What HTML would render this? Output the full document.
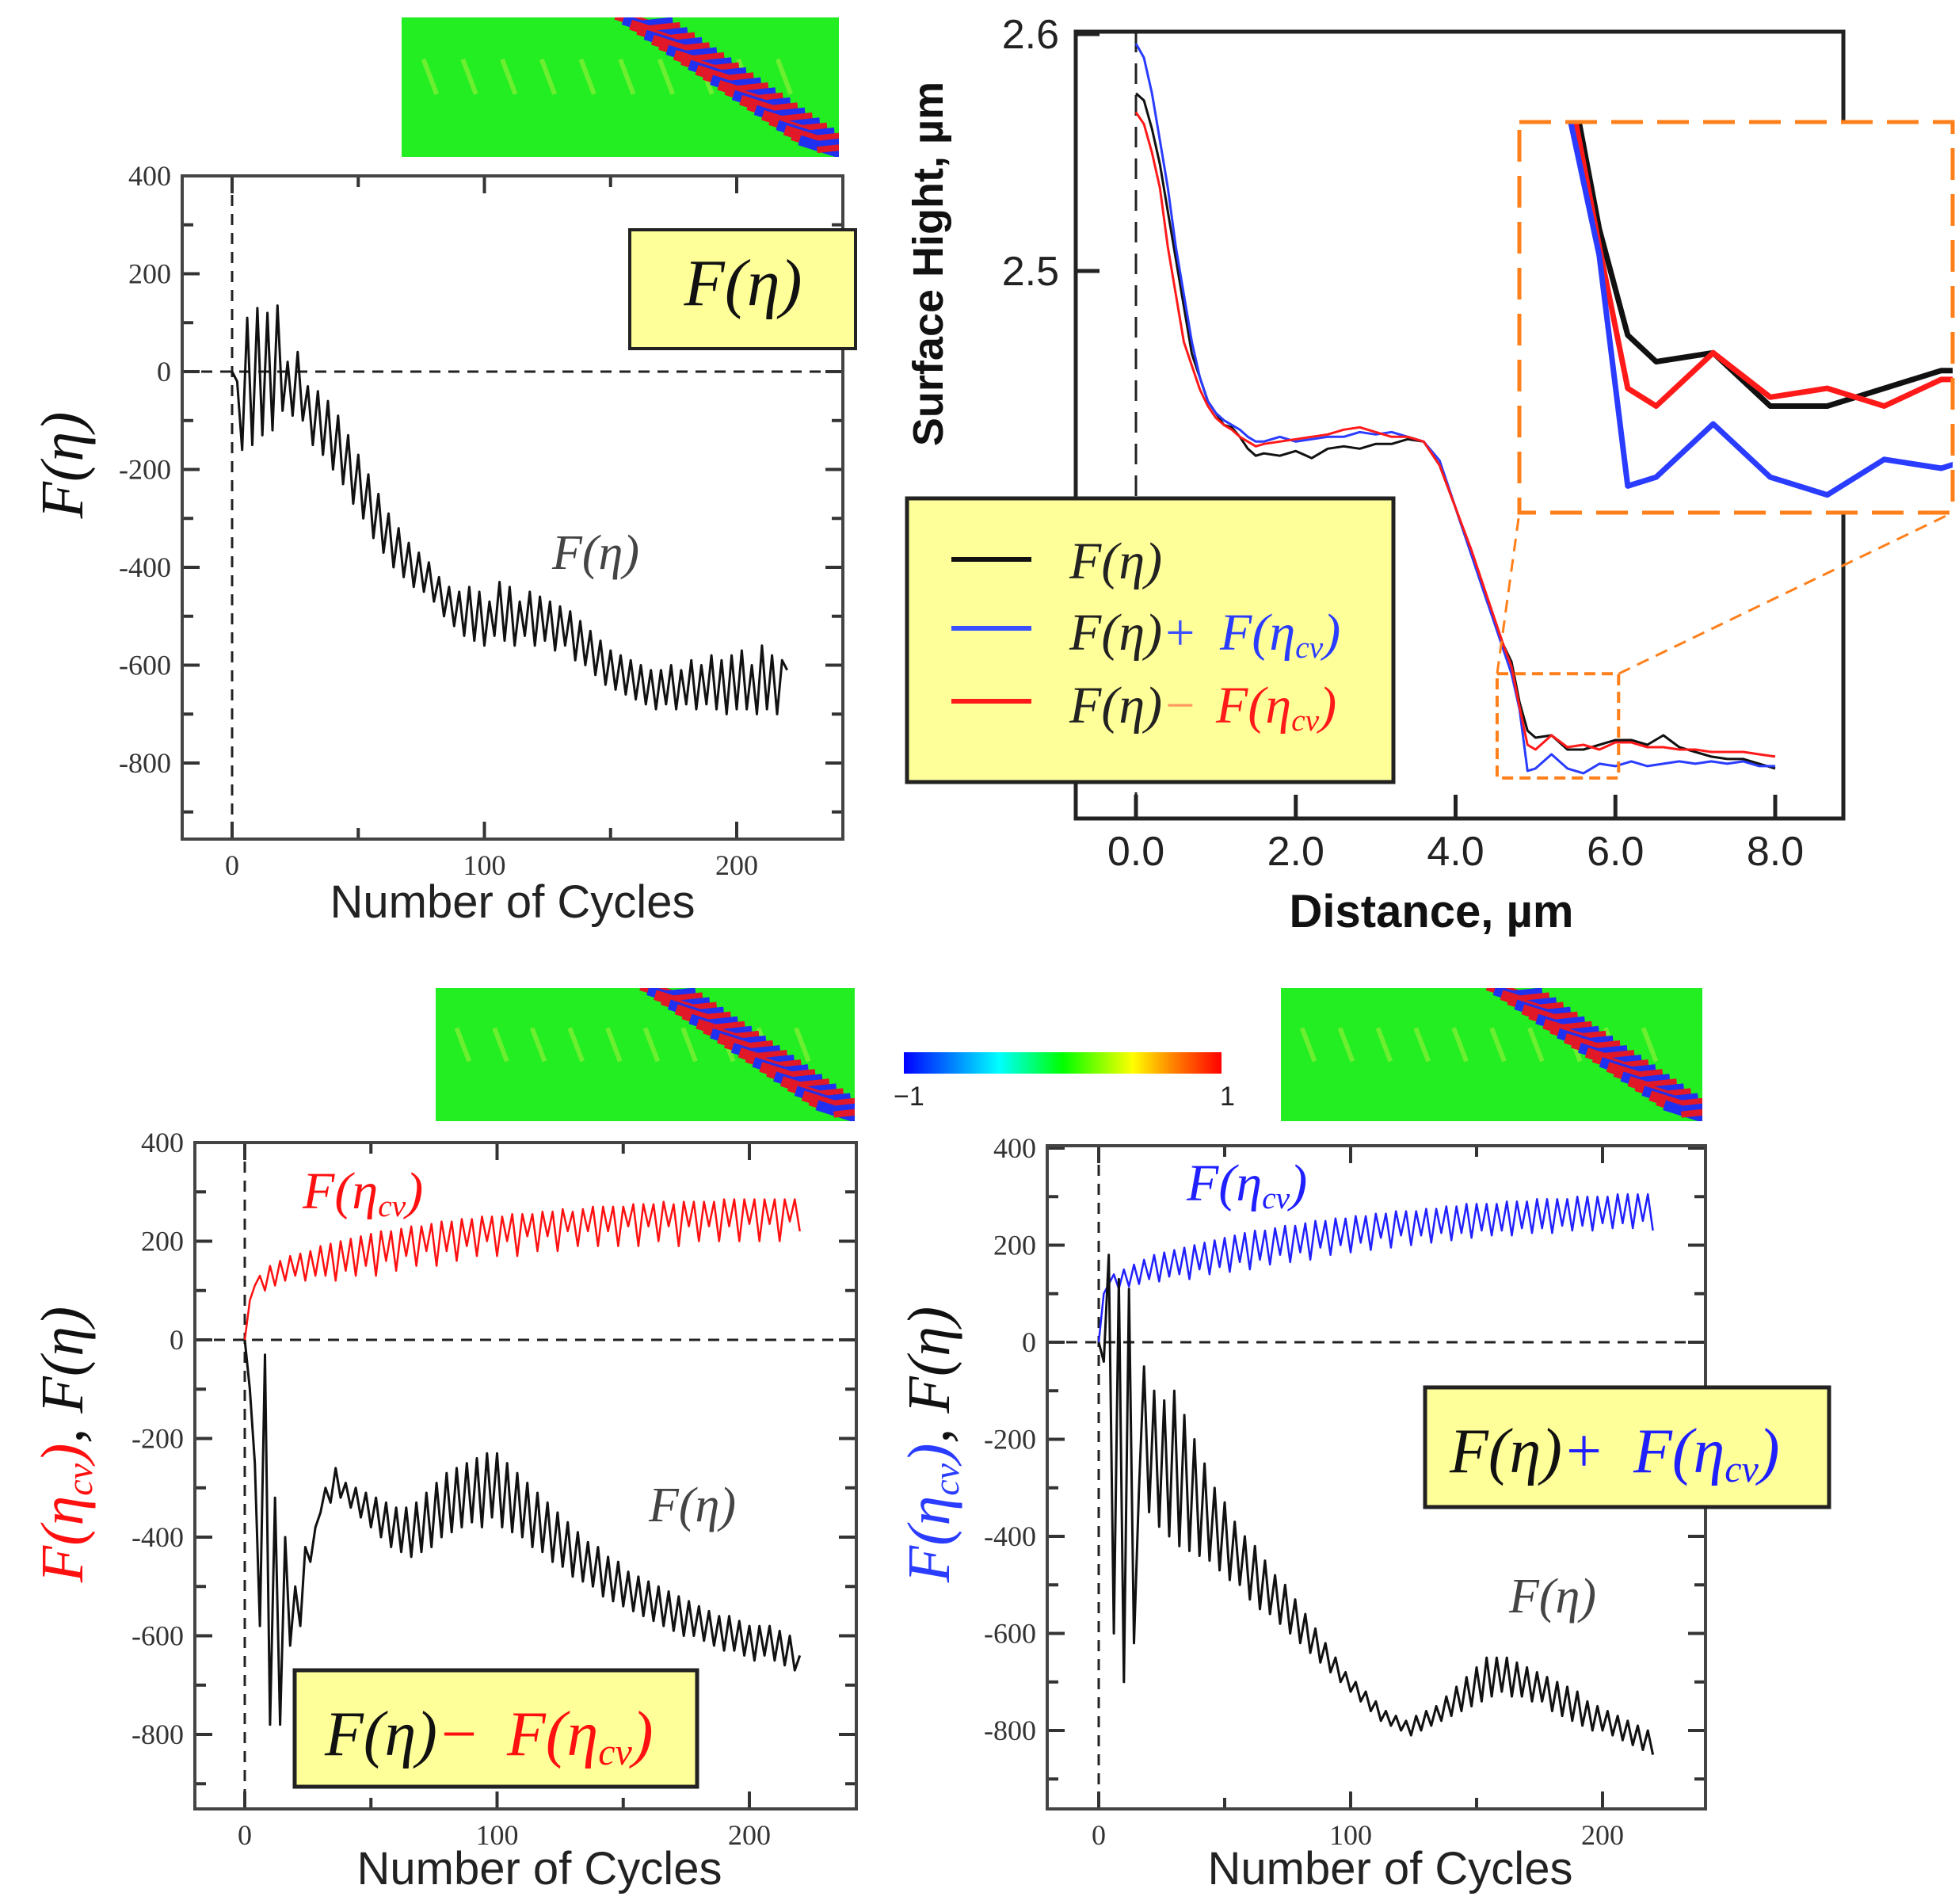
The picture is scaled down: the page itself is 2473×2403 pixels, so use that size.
<!DOCTYPE html>
<html><head><meta charset="utf-8"><title>F(eta) charts</title>
<style>
html,body{margin:0;padding:0;background:#fff;}
svg{display:block;}
.tk{font-family:"Liberation Serif",serif;font-size:36px;fill:#333;}
.sf{font-family:"Liberation Sans",sans-serif;}
.m{font-family:"Liberation Serif",serif;font-style:italic;}
.mu{font-family:"Liberation Serif",serif;}
</style></head>
<body>
<svg id="fig" width="2473" height="2403" viewBox="0 0 2473 2403" xmlns="http://www.w3.org/2000/svg">
<defs id="defs">
<linearGradient id="jet" x1="0" x2="1" y1="0" y2="0">
<stop offset="0" stop-color="#0000ff"/><stop offset="0.3" stop-color="#00ffff"/><stop offset="0.5" stop-color="#00ff00"/><stop offset="0.72" stop-color="#ffff00"/><stop offset="0.85" stop-color="#ff8000"/><stop offset="1" stop-color="#ff0000"/>
</linearGradient>
<clipPath id="clipTL"><rect x="230" y="222" width="834" height="837"/></clipPath>
<clipPath id="clipBL"><rect x="246" y="1442" width="835" height="841"/></clipPath>
<clipPath id="clipBR"><rect x="1322" y="1446" width="831" height="837"/></clipPath>
<clipPath id="clipTR"><rect x="1358" y="40" width="969" height="993"/></clipPath>
<clipPath id="clipIn"><rect x="1918" y="154" width="547" height="493"/></clipPath>
</defs>
<g id="layer"></g>
</svg>
<script>
// ---------- DATA ----------
const cycleStep = 2;
const tlEta = [0,-20,-160,110,-150,130,-130,120,-120,135,-80,20,-90,40,-100,-30,-150,-40,-170,-60,-200,-90,-230,-130,-270,-170,-300,-210,-340,-250,-370,-290,-400,-320,-420,-350,-440,-370,-450,-390,-470,-420,-500,-440,-520,-450,-540,-440,-550,-450,-560,-470,-540,-430,-550,-440,-560,-470,-540,-450,-560,-460,-550,-470,-570,-480,-560,-490,-590,-510,-600,-530,-620,-550,-640,-570,-650,-580,-660,-590,-670,-600,-680,-610,-690,-610,-680,-600,-690,-610,-680,-590,-690,-600,-680,-580,-690,-590,-700,-580,-690,-570,-690,-600,-700,-560,-690,-580,-700,-590,-610];
const blEta = [0,-100,-250,-580,-30,-780,-320,-780,-400,-620,-500,-580,-420,-450,-380,-350,-300,-330,-260,-320,-290,-340,-300,-360,-310,-380,-320,-400,-330,-420,-340,-430,-340,-440,-330,-430,-310,-420,-290,-400,-270,-390,-260,-380,-250,-370,-240,-380,-230,-360,-230,-380,-250,-390,-270,-400,-290,-420,-310,-430,-330,-450,-350,-460,-370,-480,-390,-490,-410,-500,-420,-520,-440,-530,-450,-540,-470,-550,-480,-560,-490,-570,-500,-580,-510,-590,-520,-600,-530,-600,-540,-610,-550,-620,-560,-630,-560,-630,-570,-640,-580,-650,-580,-640,-580,-650,-590,-660,-600,-670,-640];
const blCv = [0,80,110,130,100,150,110,160,120,170,130,175,120,180,130,190,130,195,120,200,140,205,130,210,150,215,130,220,160,220,140,225,170,230,150,230,180,235,150,240,180,240,160,245,190,245,170,250,200,250,170,250,200,255,170,255,210,255,180,260,210,260,180,265,220,260,190,265,220,270,190,270,220,270,190,270,230,275,190,275,230,275,200,280,230,275,190,280,230,280,200,280,230,280,200,285,230,285,200,285,235,285,200,285,235,285,200,285,240,285,220];
const brCv = [0,100,120,140,110,150,115,160,120,170,130,180,125,185,135,190,140,195,130,200,150,205,140,210,155,215,145,220,165,225,150,230,170,230,160,235,180,240,165,240,185,245,170,250,195,250,180,255,200,255,185,260,205,260,190,265,215,265,195,270,220,270,200,270,220,275,205,275,225,280,210,280,225,285,215,285,230,285,220,285,230,290,220,290,235,290,225,295,235,295,225,295,240,295,230,300,240,300,230,300,245,300,235,305,245,305,235,305,250,305,230];
const brEta = [0,-40,180,-600,130,-700,110,-620,-300,-50,-350,-100,-380,-120,-400,-100,-420,-150,-430,-200,-440,-250,-450,-300,-470,-330,-490,-370,-500,-400,-530,-420,-550,-450,-560,-480,-580,-500,-600,-530,-620,-560,-640,-590,-660,-620,-680,-650,-700,-680,-720,-700,-740,-720,-760,-740,-780,-760,-790,-770,-800,-780,-810,-770,-800,-760,-790,-750,-780,-730,-770,-710,-760,-690,-750,-670,-740,-650,-730,-650,-720,-650,-730,-660,-730,-670,-740,-680,-740,-690,-760,-700,-770,-710,-780,-720,-790,-740,-800,-750,-800,-760,-810,-770,-820,-780,-830,-790,-840,-800,-850];
const distance = [0,0.1,0.2,0.3,0.4,0.5,0.6,0.7,0.8,0.9,1.0,1.1,1.2,1.3,1.4,1.5,1.6,1.8,2.0,2.2,2.4,2.6,2.8,3.0,3.2,3.4,3.6,3.8,4.0,4.2,4.4,4.6,4.7,4.8,4.9,5.0,5.2,5.4,5.6,5.8,6.0,6.2,6.4,6.6,6.8,7.0,7.2,7.4,7.6,7.8,8.0];
const hBlack = [2.575,2.572,2.56,2.545,2.525,2.505,2.485,2.465,2.455,2.445,2.44,2.435,2.434,2.43,2.425,2.422,2.423,2.422,2.424,2.421,2.425,2.426,2.425,2.427,2.427,2.429,2.428,2.418,2.4,2.38,2.36,2.342,2.335,2.318,2.306,2.303,2.304,2.298,2.298,2.3,2.302,2.302,2.3,2.304,2.299,2.297,2.295,2.294,2.294,2.292,2.29];
const hBlue = [2.596,2.59,2.575,2.555,2.535,2.51,2.49,2.47,2.455,2.445,2.44,2.437,2.435,2.433,2.43,2.428,2.428,2.43,2.428,2.429,2.43,2.43,2.432,2.431,2.432,2.43,2.428,2.42,2.4,2.38,2.36,2.34,2.33,2.315,2.289,2.29,2.296,2.29,2.288,2.292,2.291,2.293,2.291,2.292,2.293,2.292,2.293,2.292,2.293,2.291,2.291];
const hRed = [2.567,2.562,2.55,2.535,2.51,2.49,2.47,2.46,2.45,2.443,2.438,2.435,2.433,2.43,2.428,2.426,2.427,2.428,2.429,2.43,2.431,2.433,2.434,2.432,2.43,2.43,2.428,2.418,2.4,2.382,2.362,2.342,2.333,2.316,2.3,2.298,2.304,2.299,2.300,2.298,2.301,2.301,2.299,2.299,2.298,2.298,2.297,2.297,2.297,2.296,2.295];
const cycleTicks = ["0","100","200"];
const fTicks = ["400","200","0","-200","-400","-600","-800"];
const distTicks = ["0.0","2.0","4.0","6.0","8.0"];
const hTicks = ["2.6","2.5"];

// ---------- HELPERS ----------
const NS = "http://www.w3.org/2000/svg";
const layer = document.getElementById('layer');
const defs = document.getElementById('defs');
function mk(tag, attrs, parent, text){
  const e = document.createElementNS(NS, tag);
  for (const k in attrs) e.setAttribute(k, attrs[k]);
  if (text !== undefined) e.textContent = text;
  (parent || layer).appendChild(e);
  return e;
}
function lin(d0,d1,r0,r1){ return v => r0 + (v-d0)/(d1-d0)*(r1-r0); }

function cyclePlot(id, box, x0px, x200px, y400px, y0px, clip){
  const g = mk('g', {});  
  const sx = lin(0,200,x0px,x200px), sy = lin(0,400,y0px,y400px);
  const z1 = mk('line',{x1:box.l,x2:box.r,y1:sy(0),y2:sy(0),stroke:'#222','stroke-width':3,'stroke-dasharray':'14 10'},g);
   
  const z2 = mk('line',{x1:sx(0),x2:sx(0),y1:box.t,y2:box.b,stroke:'#222','stroke-width':3,'stroke-dasharray':'14 10'},g);
   
  for (let c=0;c<=200;c+=50){
    const len = c%100===0?22:14;
    mk('line',{x1:sx(c),x2:sx(c),y1:box.b,y2:box.b-len,stroke:'#333','stroke-width':4},g);
    mk('line',{x1:sx(c),x2:sx(c),y1:box.t,y2:box.t+len,stroke:'#333','stroke-width':4},g);
  }
  cycleTicks.forEach((t,i)=>{
    const e = mk('text',{x:sx(i*100),y:box.b+45,'text-anchor':'middle',class:'tk'},g,t);
     
  });
  for (let v=400; v>=-900; v-=100){
    const yy = sy(v); if (yy>box.b-2) continue;
    const len = v%200===0?22:14;
    mk('line',{x1:box.l,x2:box.l+len,y1:yy,y2:yy,stroke:'#333','stroke-width':4},g);
    mk('line',{x1:box.r,x2:box.r-len,y1:yy,y2:yy,stroke:'#333','stroke-width':4},g);
  }
  fTicks.forEach(t=>{
    const e = mk('text',{x:box.l-14,y:sy(+t)+12,'text-anchor':'end',class:'tk'},g,t);
     
  });
  const fr = mk('rect',{x:box.l,y:box.t,width:box.r-box.l,height:box.b-box.t,fill:'none',stroke:'#444','stroke-width':4},g);
   
  return {g, sx, sy, clip};
}
function series(p, vals, color, w, name){
  const pts = vals.map((v,i)=> p.sx(i*cycleStep).toFixed(1)+','+p.sy(v).toFixed(1)).join(' ');
  const e = mk('polyline',{points:pts,fill:'none',stroke:color,'stroke-width':w,'stroke-linejoin':'round','clip-path':'url(#'+p.clip+')'},p.g);
   
}
function fEta(parent, x, y, size, color, anchor, name){
  const t = mk('text',{x:x,y:y,'font-size':size,'text-anchor':anchor||'start',fill:color||'#222',class:'m'},parent);
  t.innerHTML = 'F<tspan class="mu">(</tspan>η<tspan class="mu">)</tspan>';
   
  return t;
}
function fCv(parent, x, y, size, color, anchor, name){
  const t = mk('text',{x:x,y:y,'font-size':size,'text-anchor':anchor||'start',fill:color,class:'m'},parent);
  t.innerHTML = 'F<tspan class="mu">(</tspan>η<tspan font-size="'+(size*0.6)+'" dy="'+(size*0.15)+'">cv</tspan><tspan class="mu" dy="'+(-size*0.15)+'">)</tspan>';
   
  return t;
}
function colormap(x,y,w,h,name){
  const cp = mk('clipPath',{id:'cp-'+name},defs);
  mk('rect',{x:x,y:y,width:w,height:h},cp);
  const g = mk('g',{'clip-path':'url(#cp-'+name+')'});  
  mk('rect',{x:x,y:y,width:w,height:h,fill:'#22ee22'},g);
  for (let k=0;k<10;k++){
    mk('line',{x1:x+w*(0.05+k*0.09),y1:y+h*0.3,x2:x+w*(0.08+k*0.09),y2:y+h*0.55,stroke:'#9cf03a','stroke-width':6,opacity:0.6},g);
  }
  for (let k=0;k<26;k++){
    const f = k/25;
    const cx = x + w*(0.55 + f*0.42), cy = y + h*(0.03 + f*0.9);
    const col = (k%3===1) ? '#2030f0' : '#e01828';
    mk('line',{x1:cx-w*0.06,y1:cy-h*0.05,x2:cx+w*0.05,y2:cy+h*0.06,stroke:col,'stroke-width':13},g);
    mk('line',{x1:cx-w*0.02,y1:cy+h*0.02,x2:cx+w*0.07,y2:cy-h*0.01,stroke:(k%2?'#e01828':'#2030f0'),'stroke-width':8},g);
  }
}

// ---------- TOP-LEFT ----------
colormap(507,22,552,176,'colormap-top-left');
const pTL = cyclePlot('top-left',{l:230,r:1064,t:222,b:1059},293,930,222,469,'clipTL');
series(pTL, tlEta, '#111', 3, 'f-eta-line');
{ const r = mk('rect',{x:795,y:290,width:285,height:150,fill:'#ffff99',stroke:'#222','stroke-width':4});  
  fEta(layer,938,385,84,'#111','middle','title-box-label');
  fEta(layer,752,718,62,'#444','middle','f-eta-annotation');
  const yl = fEta(layer,0,0,76,'#111','middle','y-axis-title'); yl.setAttribute('transform','translate(104,587) rotate(-90)');
  const xl = mk('text',{x:647,y:1158,'font-size':58,'text-anchor':'middle',fill:'#222',class:'sf'},layer,'Number of Cycles');   }

// ---------- TOP-RIGHT ----------
{
  const g = mk('g',{});  
  const sx = lin(0,8,1434,2241), sy = lin(2.5,2.6,342,43);
  const vd = mk('line',{x1:sx(0),x2:sx(0),y1:40,y2:1033,stroke:'#222','stroke-width':3,'stroke-dasharray':'26 14'},g);
   
  distTicks.forEach((t,i)=>{
    mk('line',{x1:sx(i*2),x2:sx(i*2),y1:1033,y2:1003,stroke:'#222','stroke-width':5},g);
    const e = mk('text',{x:sx(i*2),y:1092,'font-size':52,'text-anchor':'middle',fill:'#222',class:'sf'},g,t);
     
  });
  hTicks.forEach(t=>{
    mk('line',{x1:1358,x2:1388,y1:sy(+t),y2:sy(+t),stroke:'#222','stroke-width':5},g);
    const e = mk('text',{x:1337,y:sy(+t)+18,'font-size':52,'text-anchor':'end',fill:'#222',class:'sf'},g,t);
     
  });
  const draw = (vals,col,w,clip,fx,fy,name)=>{
    const pts = vals.map((v,i)=>fx(distance[i]).toFixed(1)+','+fy(v).toFixed(1)).join(' ');
    const e = mk('polyline',{points:pts,fill:'none',stroke:col,'stroke-width':w,'stroke-linejoin':'round','clip-path':'url(#'+clip+')'},g);
     
  };
  draw(hBlack,'#111',3,'clipTR',sx,sy,'f-eta-profile');
  draw(hBlue,'#2a3cff',3,'clipTR',sx,sy,'f-eta-plus-cv-profile');
  draw(hRed,'#ff1a1a',3,'clipTR',sx,sy,'f-eta-minus-cv-profile');
  const fr = mk('rect',{x:1358,y:40,width:969,height:993,fill:'none',stroke:'#222','stroke-width':5},g);
   
  const zx0=4.52, zx1=6.04, zy0=2.330, zy1=2.286;
  const sb = mk('rect',{x:sx(zx0),y:sy(zy0),width:sx(zx1)-sx(zx0),height:sy(zy1)-sy(zy0),fill:'none',stroke:'#ff7f1a','stroke-width':4,'stroke-dasharray':'14 8'},g);
   
  mk('line',{x1:sx(zx0),y1:sy(zy0),x2:1918,y2:647,stroke:'#ff7f1a','stroke-width':3,'stroke-dasharray':'16 10'},g);
  mk('line',{x1:sx(zx1),y1:sy(zy0),x2:2465,y2:647,stroke:'#ff7f1a','stroke-width':3,'stroke-dasharray':'16 10'},g);
  const ib = mk('rect',{x:1918,y:154,width:547,height:493,fill:'#fff',stroke:'none'},g);
   
  const ix = lin(zx0,zx1,1918,2465), iy = lin(zy0,zy1,154,647);
  draw(hBlack,'#111',7,'clipIn',ix,iy,'inset-f-eta');
  draw(hRed,'#ff1a1a',7,'clipIn',ix,iy,'inset-f-eta-minus-cv');
  draw(hBlue,'#2a3cff',7,'clipIn',ix,iy,'inset-f-eta-plus-cv');
  const inb = mk('rect',{x:1918,y:154,width:547,height:493,fill:'none',stroke:'#ff7f1a','stroke-width':5,'stroke-dasharray':'40 18'},g);
   
  const lg = mk('g',{},g);  
  mk('rect',{x:1145,y:629,width:614,height:358,fill:'#ffff99',stroke:'#222','stroke-width':5},lg);
  [['#111',706],['#3a50ff',793],['#ff1a1a',885]].forEach(a=>{
    const l = mk('line',{x1:1201,x2:1302,y1:a[1],y2:a[1],stroke:a[0],'stroke-width':6},lg);
     
  });
  fEta(lg,1350,730,66,'#222','start','legend-entry-f-eta');
  const e2 = fEta(lg,1350,820,66,'#222','start','legend-entry-plus');
  mk('tspan',{class:'mu',fill:'#3a50ff'},e2,'+');
  fCv(lg,1540,820,66,'#2a3cff','start','legend-entry-plus-cv');
  const e3 = fEta(lg,1350,912,66,'#222','start','legend-entry-minus');
  mk('tspan',{class:'mu',fill:'#ff9a60'},e3,'−');
  fCv(lg,1535,912,66,'#ff1a1a','start','legend-entry-minus-cv');
  const yl = mk('text',{x:0,y:0,'font-size':54,'font-weight':'bold','text-anchor':'middle',fill:'#111',class:'sf',transform:'translate(1190,333) rotate(-90)'},layer,'Surface Hight, µm');
   
  const xl = mk('text',{x:1807,y:1170,'font-size':58,'font-weight':'bold','text-anchor':'middle',fill:'#111',class:'sf'},layer,'Distance, µm');
   
}

// ---------- COLORBAR ----------
{ const cb = mk('rect',{x:1141,y:1328,width:401,height:27,fill:'url(#jet)'});  
  const a = mk('text',{x:1128,y:1395,'font-size':34,fill:'#222',class:'sf'},layer,'−1');  
  const b = mk('text',{x:1540,y:1395,'font-size':34,fill:'#222',class:'sf'},layer,'1');   }

// ---------- BOTTOM-LEFT ----------
colormap(550,1247,529,168,'colormap-bottom-left');
const pBL = cyclePlot('bottom-left',{l:246,r:1081,t:1442,b:2283},309,946,1442,1691,'clipBL');
series(pBL, blCv, '#ff1010', 2.5, 'f-eta-cv-line');
series(pBL, blEta, '#111', 3, 'f-eta-line');
{ fCv(layer,382,1525,66,'#ff1010','start','f-eta-cv-annotation');
  fEta(layer,874,1920,62,'#444','middle','f-eta-annotation');
  const r = mk('rect',{x:372,y:2108,width:508,height:147,fill:'#ffff99',stroke:'#222','stroke-width':5});  
  const t = fEta(layer,410,2215,80,'#111','start','title-box-label');
  mk('tspan',{class:'mu',fill:'#ff1010'},t,'−');
  fCv(layer,640,2215,80,'#ff1010','start','title-box-label-cv');
  const yl = mk('text',{x:0,y:0,'font-size':76,'text-anchor':'middle',class:'m',transform:'translate(104,1823) rotate(-90)'},layer);
  yl.innerHTML = '<tspan fill="#ff1010">F<tspan class="mu">(</tspan>η<tspan font-size="46" dy="12">cv</tspan><tspan class="mu" dy="-12">)</tspan></tspan><tspan fill="#111">, F<tspan class="mu">(</tspan>η<tspan class="mu">)</tspan></tspan>';
   
  const xl = mk('text',{x:681,y:2378,'font-size':58,'text-anchor':'middle',fill:'#222',class:'sf'},layer,'Number of Cycles');   }

// ---------- BOTTOM-RIGHT ----------
colormap(1617,1247,532,168,'colormap-bottom-right');
const pBR = cyclePlot('bottom-right',{l:1322,r:2153,t:1446,b:2283},1387,2023,1449,1694,'clipBR');
series(pBR, brCv, '#2020ff', 2.5, 'f-eta-cv-line');
series(pBR, brEta, '#111', 3, 'f-eta-line');
{ fCv(layer,1498,1515,66,'#2020ff','start','f-eta-cv-annotation');
  fEta(layer,1960,2035,62,'#444','middle','f-eta-annotation');
  const r = mk('rect',{x:1799,y:1751,width:510,height:151,fill:'#ffff99',stroke:'#222','stroke-width':5});  
  const t = fEta(layer,1830,1858,80,'#111','start','title-box-label');
  mk('tspan',{class:'mu',fill:'#2020ff'},t,'+');
  fCv(layer,2062,1858,80,'#2020ff','start','title-box-label-cv');
  const yl = mk('text',{x:0,y:0,'font-size':76,'text-anchor':'middle',class:'m',transform:'translate(1198,1823) rotate(-90)'},layer);
  yl.innerHTML = '<tspan fill="#2a3cff">F<tspan class="mu">(</tspan>η<tspan font-size="46" dy="12">cv</tspan><tspan class="mu" dy="-12">)</tspan></tspan><tspan fill="#111">, F<tspan class="mu">(</tspan>η<tspan class="mu">)</tspan></tspan>';
   
  const xl = mk('text',{x:1755,y:2378,'font-size':58,'text-anchor':'middle',fill:'#222',class:'sf'},layer,'Number of Cycles');   }
</script>
</body></html>
